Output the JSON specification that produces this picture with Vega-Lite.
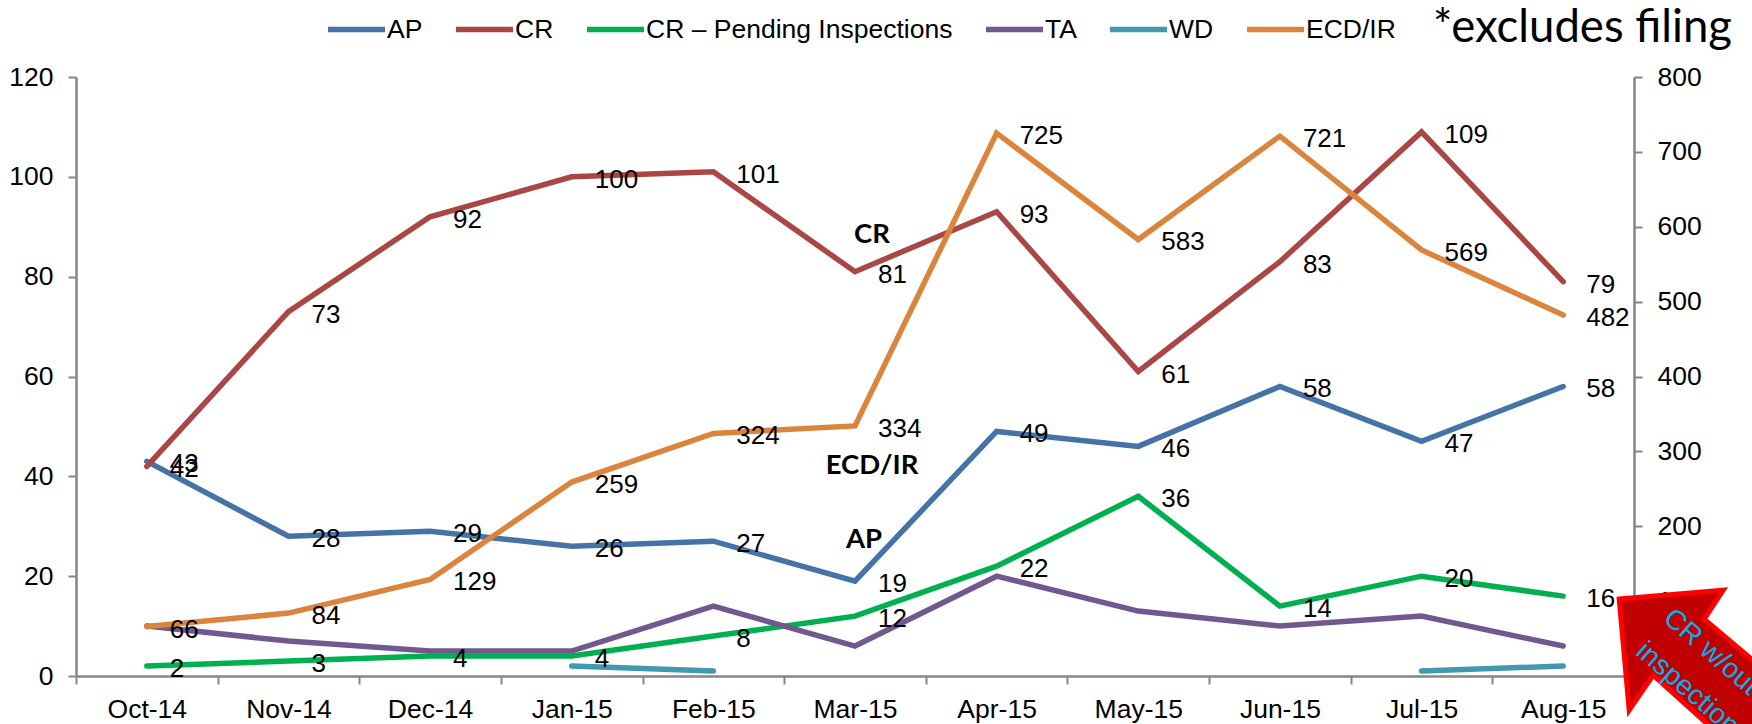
{
"$schema":"https://vega.github.io/schema/vega-lite/v6.json",
"width":1558,"height":599,
"autosize":{"type":"none"},
"padding":{"left":76,"top":77,"right":118,"bottom":48},
"background":"white",
"config":{"view":{"stroke":null},"text":{"font":"Liberation Sans"}},
"title":{"text":"*excludes filing","font":"Lato","fontSize":45.5,"fontWeight":"normal","color":"#000000","anchor":"end","frame":"group","dx":98,"offset":0,"dy":53},
"datasets":{
"series":[
{"month":"Oct-14","series":"AP","value":43},{"month":"Nov-14","series":"AP","value":28},{"month":"Dec-14","series":"AP","value":29},{"month":"Jan-15","series":"AP","value":26},{"month":"Feb-15","series":"AP","value":27},{"month":"Mar-15","series":"AP","value":19},{"month":"Apr-15","series":"AP","value":49},{"month":"May-15","series":"AP","value":46},{"month":"Jun-15","series":"AP","value":58},{"month":"Jul-15","series":"AP","value":47},{"month":"Aug-15","series":"AP","value":58},
{"month":"Oct-14","series":"CR","value":42},{"month":"Nov-14","series":"CR","value":73},{"month":"Dec-14","series":"CR","value":92},{"month":"Jan-15","series":"CR","value":100},{"month":"Feb-15","series":"CR","value":101},{"month":"Mar-15","series":"CR","value":81},{"month":"Apr-15","series":"CR","value":93},{"month":"May-15","series":"CR","value":61},{"month":"Jun-15","series":"CR","value":83},{"month":"Jul-15","series":"CR","value":109},{"month":"Aug-15","series":"CR","value":79},
{"month":"Oct-14","series":"CR – Pending Inspections","value":2},{"month":"Nov-14","series":"CR – Pending Inspections","value":3},{"month":"Dec-14","series":"CR – Pending Inspections","value":4},{"month":"Jan-15","series":"CR – Pending Inspections","value":4},{"month":"Feb-15","series":"CR – Pending Inspections","value":8},{"month":"Mar-15","series":"CR – Pending Inspections","value":12},{"month":"Apr-15","series":"CR – Pending Inspections","value":22},{"month":"May-15","series":"CR – Pending Inspections","value":36},{"month":"Jun-15","series":"CR – Pending Inspections","value":14},{"month":"Jul-15","series":"CR – Pending Inspections","value":20},{"month":"Aug-15","series":"CR – Pending Inspections","value":16},
{"month":"Oct-14","series":"TA","value":10},{"month":"Nov-14","series":"TA","value":7},{"month":"Dec-14","series":"TA","value":5},{"month":"Jan-15","series":"TA","value":5},{"month":"Feb-15","series":"TA","value":14},{"month":"Mar-15","series":"TA","value":6},{"month":"Apr-15","series":"TA","value":20},{"month":"May-15","series":"TA","value":13},{"month":"Jun-15","series":"TA","value":10},{"month":"Jul-15","series":"TA","value":12},{"month":"Aug-15","series":"TA","value":6},
{"month":"Jan-15","series":"WD","value":2},{"month":"Feb-15","series":"WD","value":1},{"month":"Mar-15","series":"WD","value":null},{"month":"Apr-15","series":"WD","value":null},{"month":"May-15","series":"WD","value":null},{"month":"Jun-15","series":"WD","value":null},{"month":"Jul-15","series":"WD","value":1},{"month":"Aug-15","series":"WD","value":2},
{"month":"Oct-14","series":"ECD/IR","value":66},{"month":"Nov-14","series":"ECD/IR","value":84},{"month":"Dec-14","series":"ECD/IR","value":129},{"month":"Jan-15","series":"ECD/IR","value":259},{"month":"Feb-15","series":"ECD/IR","value":324},{"month":"Mar-15","series":"ECD/IR","value":334},{"month":"Apr-15","series":"ECD/IR","value":725},{"month":"May-15","series":"ECD/IR","value":583},{"month":"Jun-15","series":"ECD/IR","value":721},{"month":"Jul-15","series":"ECD/IR","value":569},{"month":"Aug-15","series":"ECD/IR","value":482}
]},
"encoding":{
"x":{"field":"month","type":"ordinal","sort":null,"scale":{"type":"band","paddingInner":0,"paddingOuter":0,"domain":["Oct-14","Nov-14","Dec-14","Jan-15","Feb-15","Mar-15","Apr-15","May-15","Jun-15","Jul-15","Aug-15"]},
"axis":{"title":null,"labelAngle":0,"tickBand":"extent","labelFont":"Liberation Sans","labelFontSize":26.5,"labelColor":"#000000","labelPadding":12,"domainColor":"#868686","domainWidth":2.5,"tickColor":"#868686","tickWidth":2,"tickSize":8,"grid":false}}
},
"resolve":{"scale":{"y":"independent"},"axis":{"y":"independent"}},
"layer":[
{"data":{"name":"series"},"transform":[{"filter":"datum.series!=='ECD/IR'"}],
"mark":{"type":"line","strokeWidth":5.5,"strokeCap":"round","strokeJoin":"miter"},
"encoding":{
"y":{"field":"value","type":"quantitative","scale":{"domain":[0,120]},"axis":{"title":null,"orient":"left","values":[0,20,40,60,80,100,120],"labelFont":"Liberation Sans","labelFontSize":26.5,"labelColor":"#000000","labelPadding":15,"domainColor":"#868686","domainWidth":2.5,"tickColor":"#868686","tickWidth":2,"tickSize":8,"grid":false}},
"color":{"field":"series","type":"nominal","scale":{"domain":["AP","CR","CR – Pending Inspections","TA","WD","ECD/IR"],"range":["#4572A7","#AA4643","#00B050","#71588F","#4198AF","#DB843D"]},
"legend":{"title":null,"orient":"none","legendX":249,"legendY":-79,"direction":"horizontal","columns":6,"symbolType":"stroke","symbolSize":3249,"symbolStrokeWidth":5.5,"labelFont":"Liberation Sans","labelFontSize":26.5,"labelColor":"#000000","labelOffset":-1,"columnPadding":22,"labelLimit":400}}
}},
{"data":{"name":"series"},"transform":[{"filter":"datum.series==='ECD/IR'"}],
"mark":{"type":"line","strokeWidth":5.5,"strokeCap":"round","strokeJoin":"miter"},
"encoding":{
"y":{"field":"value","type":"quantitative","scale":{"domain":[0,800]},"axis":{"title":null,"orient":"right","values":[0,100,200,300,400,500,600,700,800],"labelFont":"Liberation Sans","labelFontSize":26.5,"labelColor":"#000000","labelPadding":15,"domainColor":"#868686","domainWidth":2.5,"tickColor":"#868686","tickWidth":2,"tickSize":8,"grid":false}},
"color":{"field":"series","type":"nominal"}
}},
{"data":{"name":"series"},"transform":[{"filter":"datum.series==='AP'||datum.series==='CR'||datum.series==='CR – Pending Inspections'"}],
"mark":{"type":"text","align":"left","baseline":"middle","dx":23,"dy":3,"fontSize":26,"color":"#000000"},
"encoding":{"y":{"field":"value","type":"quantitative","scale":{"domain":[0,120]},"axis":null},"text":{"field":"value","type":"quantitative"}}},
{"data":{"name":"series"},"transform":[{"filter":"datum.series==='ECD/IR'"}],
"mark":{"type":"text","align":"left","baseline":"middle","dx":23,"dy":3,"fontSize":26,"color":"#000000"},
"encoding":{"y":{"field":"value","type":"quantitative","scale":{"domain":[0,800]},"axis":null},"text":{"field":"value","type":"quantitative"}}},
{"data":{"values":[{"month":"Mar-15","value":88.3,"note":"CR"},{"month":"Mar-15","value":42.1,"note":"ECD/IR"}]},
"mark":{"type":"text","align":"center","baseline":"middle","dx":17,"font":"Lato","fontWeight":"bold","fontSize":27.5,"color":"#000000"},
"encoding":{"y":{"field":"value","type":"quantitative","scale":{"domain":[0,120]},"axis":null},"text":{"field":"note"}}},
{"data":{"values":[{"month":"Mar-15","value":27.2,"note":"AP"}]},
"mark":{"type":"text","align":"center","baseline":"middle","dx":9,"font":"Lato","fontWeight":"bold","fontSize":27.5,"color":"#000000"},
"encoding":{"y":{"field":"value","type":"quantitative","scale":{"domain":[0,120]},"axis":null},"text":{"field":"note"}}},
{"data":{"values":[{"month":"Aug-15","value":10}]},
"mark":{"type":"point","filled":true,"fill":"#C00000","fillOpacity":1,"stroke":"#FF0000","strokeWidth":5,"strokeOpacity":1,"strokeJoin":"miter","size":40000,"shape":"M0.56,-0.27 L1.60,-0.36 L1.41,-0.07 L2.37,0.74 L1.82,1.32 L0.90,0.49 L0.66,0.84 Z"},
"encoding":{"y":{"field":"value","type":"quantitative","scale":{"domain":[0,120]},"axis":null}}},
{"data":{"values":[{"month":"Aug-15","value":10,"note":"CR w/out"}]},
"mark":{"type":"text","align":"left","baseline":"middle","angle":41,"dx":71,"dy":-77,"fontSize":28,"color":"#00B0F0"},
"encoding":{"y":{"field":"value","type":"quantitative","scale":{"domain":[0,120]},"axis":null},"text":{"field":"note"}}},
{"data":{"values":[{"month":"Aug-15","value":10,"note":"inspections"}]},
"mark":{"type":"text","align":"left","baseline":"middle","angle":41,"dx":72,"dy":-34,"fontSize":28,"color":"#00B0F0"},
"encoding":{"y":{"field":"value","type":"quantitative","scale":{"domain":[0,120]},"axis":null},"text":{"field":"note"}}}
]
}
